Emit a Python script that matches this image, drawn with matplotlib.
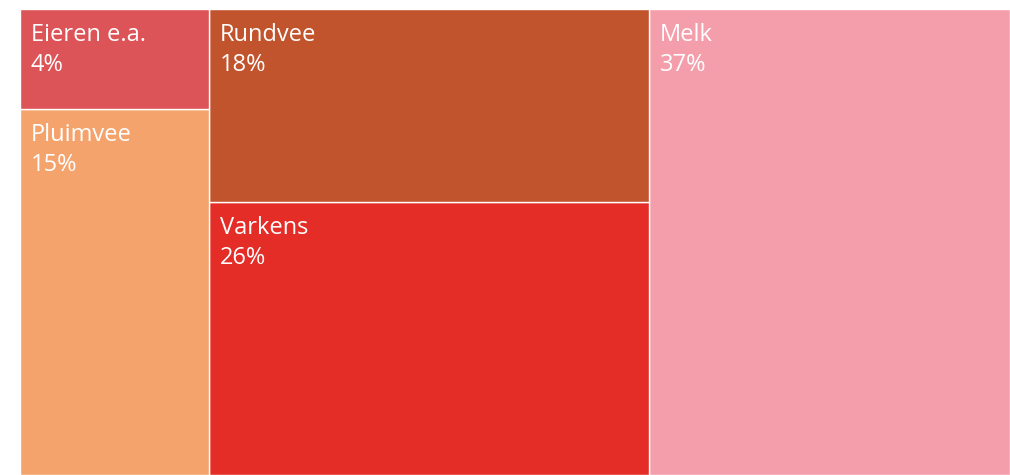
import matplotlib
matplotlib.use("Agg")
import matplotlib.pyplot as plt
from matplotlib.patches import Rectangle

# shares in percent
names = ["Melk", "Varkens", "Rundvee", "Pluimvee", "Eieren e.a."]
values = [36.5, 26.0, 18.4, 15.0, 4.1]
colors = ["#f49eab", "#e52d27", "#c2542d", "#f4a36d", "#dc5458"]

W, H = 990.0, 466.0

fig = plt.figure(figsize=(10.1, 4.75), dpi=100)
ax = fig.add_axes([20 / 1010, 0, 990 / 1010, 466 / 475])
ax.set_xlim(0, W)
ax.set_ylim(0, H)
ax.axis("off")

# columns: largest alone, then the rest in pairs; laid out right to left,
# stacked bottom-up within each column
order = sorted(range(len(values)), key=lambda i: -values[i])
columns = [order[:1]] + [order[k:k + 2] for k in range(1, len(order), 2)]
total = sum(values)
x_right = W
for col in columns:
    col_sum = sum(values[i] for i in col)
    w = W * col_sum / total
    x0 = x_right - w
    y0 = 0.0
    for i in col:
        h = H * values[i] / col_sum
        ax.add_patch(Rectangle((x0, y0), w, h, facecolor=colors[i],
                               edgecolor="white", linewidth=1))
        top = y0 + h
        ax.annotate(names[i], (x0, top), xytext=(11, -32),
                    textcoords="offset pixels", color="white",
                    fontsize=17, family="Open Sans",
                    va="baseline", ha="left")
        ax.annotate(f"{int(values[i] + 0.5)}%", (x0, top), xytext=(11, -62),
                    textcoords="offset pixels", color="white",
                    fontsize=17, family="Open Sans",
                    va="baseline", ha="left")
        y0 = top
    x_right = x0

fig.savefig("out.png", dpi=100)
